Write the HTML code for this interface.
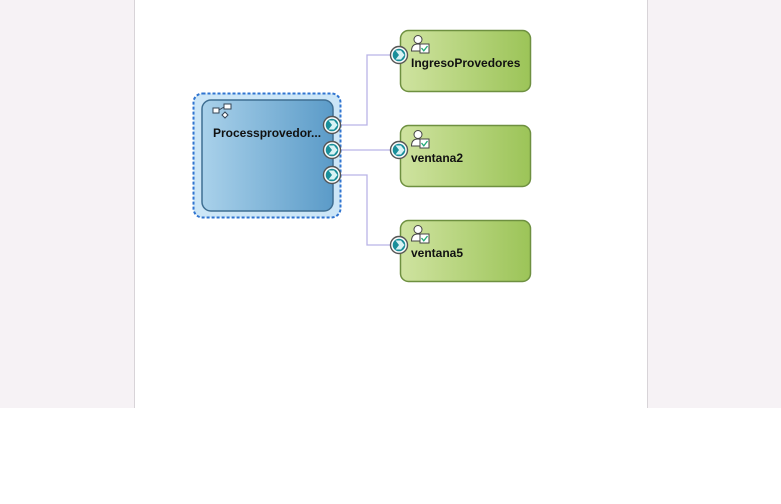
<!DOCTYPE html>
<html><head><meta charset="utf-8"><style>
html,body{margin:0;padding:0;width:781px;height:504px;overflow:hidden;background:#fff;}
svg{display:block}
text{font-family:"Liberation Sans",Arial,sans-serif;font-weight:bold;font-size:12px;fill:#111}
</style></head><body>
<svg width="781" height="504" viewBox="0 0 781 504" xmlns="http://www.w3.org/2000/svg">
<defs>
<linearGradient id="bl" x1="0" x2="1" y1="0" y2="0">
<stop offset="0" stop-color="#a9d1ea"/><stop offset="1" stop-color="#5b9bc8"/></linearGradient>
<linearGradient id="gr" x1="0" x2="1" y1="0" y2="0">
<stop offset="0" stop-color="#cfe3a0"/><stop offset="1" stop-color="#9cc458"/></linearGradient>
<g id="port">
<circle r="8.5" fill="#fff" stroke="#555" stroke-width="1.4"/>
<circle r="6.3" fill="#1a8f9a"/>
<path d="M-3.5,-4.5 L2,-4.5 L5.5,0 L2,4.5 L-3.5,4.5 L0,0 Z" fill="#d9f3f5"/>
</g>
<g id="user">
<circle cx="7" cy="4.5" r="4" fill="#fff" stroke="#444" stroke-width="1"/>
<path d="M0.5,16 Q0.5,9 7,9 Q13.5,9 13.5,16 Z" fill="#fff" stroke="#444" stroke-width="1"/>
<rect x="9" y="9" width="9" height="9" fill="#fff" stroke="#444" stroke-width="1"/>
<path d="M10.5,13 L12.8,15.8 L16.5,11" fill="none" stroke="#2a7" stroke-width="1.3"/>
</g>
</defs>
<rect x="0" y="0" width="135" height="408" fill="#f6f2f5"/>
<rect x="647" y="0" width="134" height="408" fill="#f6f2f5"/>
<line x1="134.5" y1="0" x2="134.5" y2="408" stroke="#d8d4d8"/>
<line x1="647.5" y1="0" x2="647.5" y2="408" stroke="#d8d4d8"/>

<g stroke="#b9b3e6" stroke-width="1.3" fill="none">
<path d="M340,125 H367 V55 H392"/>
<path d="M340,150 H392"/>
<path d="M340,175 H367 V245 H392"/>
</g>

<rect x="193.5" y="93.5" width="147" height="124" rx="9" fill="#cce6f7" stroke="#2f74d0" stroke-width="2" stroke-dasharray="3,2"/>
<rect x="202" y="100" width="131" height="111" rx="9" fill="url(#bl)" stroke="#3f6f92" stroke-width="1.5"/>
<g fill="#fff" stroke="#345" stroke-width="1">
<rect x="213" y="108" width="6" height="5"/>
<rect x="224" y="104" width="7" height="5"/>
<path d="M219,110 L224,107"/>
<path d="M225,112 L228,115 L225,118 L222,115 Z"/>
</g>
<text x="213" y="137">Processprovedor...</text>
<use href="#port" x="332" y="125"/>
<use href="#port" x="332" y="150"/>
<use href="#port" x="332" y="175"/>

<g>
<rect x="400.5" y="30.5" width="130" height="61" rx="8" fill="url(#gr)" stroke="#6e9040" stroke-width="1.5"/>
<use href="#user" x="411" y="35"/>
<text x="411" y="67">IngresoProvedores</text>
<use href="#port" x="399" y="55"/>
</g>
<g>
<rect x="400.5" y="125.5" width="130" height="61" rx="8" fill="url(#gr)" stroke="#6e9040" stroke-width="1.5"/>
<use href="#user" x="411" y="130"/>
<text x="411" y="162">ventana2</text>
<use href="#port" x="399" y="150"/>
</g>
<g>
<rect x="400.5" y="220.5" width="130" height="61" rx="8" fill="url(#gr)" stroke="#6e9040" stroke-width="1.5"/>
<use href="#user" x="411" y="225"/>
<text x="411" y="257">ventana5</text>
<use href="#port" x="399" y="245"/>
</g>
</svg>
</body></html>
